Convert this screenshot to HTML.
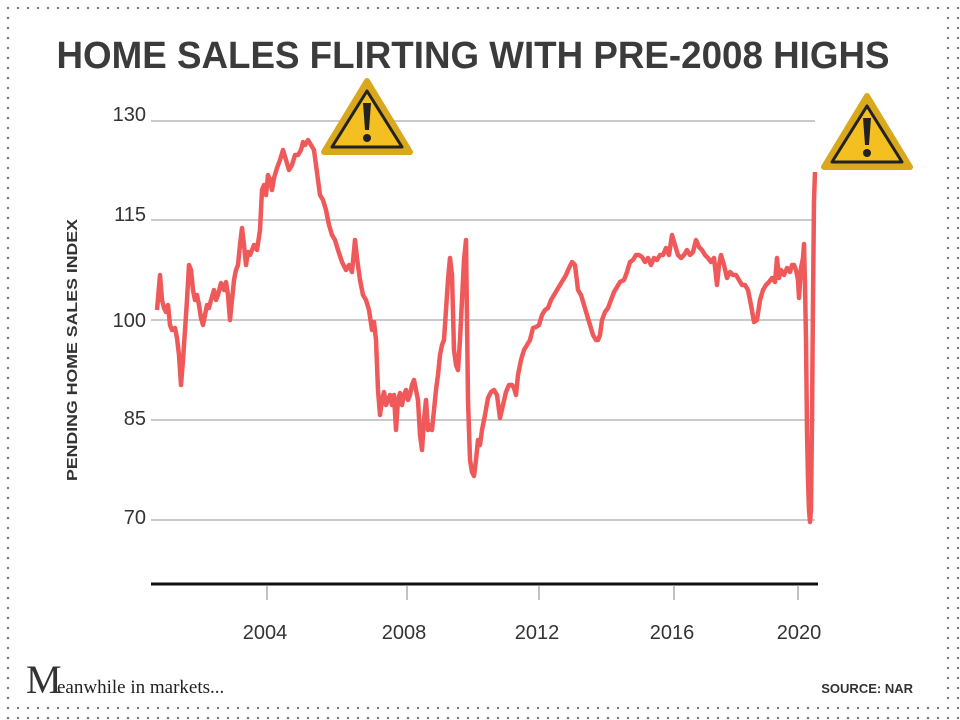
<!DOCTYPE html>
<html><head><meta charset="utf-8"><style>
html,body{margin:0;padding:0}
body{width:960px;height:720px;position:relative;overflow:hidden;background:#fff;
background-image:radial-gradient(circle,#777 1px,transparent 1.4px);background-size:10px 10px;background-position:3px 3px}
.inner{position:absolute;left:15px;top:13px;right:15px;bottom:17px;background:#fff}
svg{position:absolute;left:0;top:0}
</style></head><body>
<div class="inner"></div>
<svg width="960" height="720" viewBox="0 0 960 720" font-family="Liberation Sans, sans-serif">
<text x="473" y="68" text-anchor="middle" font-size="38" font-weight="bold" fill="#3b3b3b" textLength="833" lengthAdjust="spacingAndGlyphs">HOME SALES FLIRTING WITH PRE-2008 HIGHS</text>
<g stroke="#aaa" stroke-width="1.2">
<line x1="151" y1="121" x2="815" y2="121"/><line x1="151" y1="220" x2="815" y2="220"/>
<line x1="151" y1="320" x2="815" y2="320"/><line x1="151" y1="420" x2="815" y2="420"/>
<line x1="151" y1="520" x2="815" y2="520"/>
</g>
<g font-size="20" fill="#333" text-anchor="end">
<text x="146" y="121">130</text><text x="146" y="221">115</text><text x="146" y="327">100</text>
<text x="146" y="425">85</text><text x="146" y="524">70</text>
</g>
<text transform="translate(77,350) rotate(-90)" text-anchor="middle" font-size="15" font-weight="bold" fill="#333" textLength="262" lengthAdjust="spacingAndGlyphs">PENDING HOME SALES INDEX</text>
<line x1="151" y1="584" x2="818" y2="584" stroke="#111" stroke-width="3"/>
<g stroke="#999" stroke-width="1.2">
<line x1="267" y1="585" x2="267" y2="600"/><line x1="407" y1="585" x2="407" y2="600"/>
<line x1="539" y1="585" x2="539" y2="600"/><line x1="674" y1="585" x2="674" y2="600"/>
<line x1="798" y1="585" x2="798" y2="600"/>
</g>
<g font-size="20" fill="#333" text-anchor="middle">
<text x="265" y="639">2004</text><text x="404" y="639">2008</text><text x="537" y="639">2012</text>
<text x="672" y="639">2016</text><text x="799" y="639">2020</text>
</g>
<polyline fill="none" stroke="#f0595a" stroke-width="4.5" stroke-linejoin="round" points="157,310 160,275 162,300 164,308 166,312 168,305 170,325 172,330 175,328 177,338 179,355 181,385 183,360 185,330 187,300 189,265 191,270 193,290 195,300 197,295 199,305 201,318 203,325 205,315 207,305 209,308 211,300 214,290 216,300 218,295 221,283 224,290 226,282 228,295 230,320 232,300 234,280 236,270 238,265 240,245 242,228 244,245 246,265 248,252 250,255 252,250 254,245 257,250 260,230 262,190 264,185 266,195 268,175 270,180 272,190 274,178 277,168 280,160 283,150 286,160 289,170 292,165 295,155 298,155 301,150 303,142 305,145 308,140 311,145 314,150 316,165 318,180 320,195 323,200 326,210 329,225 332,235 335,240 338,250 342,262 346,270 349,265 352,272 355,240 357,258 360,280 363,295 366,300 369,310 372,330 374,322 376,340 378,390 380,415 382,400 384,392 386,405 388,400 390,395 392,405 394,395 396,430 398,400 400,393 402,405 404,395 406,390 408,400 410,395 412,385 414,380 416,390 418,400 420,435 422,450 424,420 426,400 428,430 430,425 432,430 434,410 436,390 438,375 440,355 442,345 444,340 446,310 448,280 450,258 452,275 454,350 456,365 458,370 460,340 462,300 464,260 466,240 468,400 470,460 472,472 474,476 476,460 478,440 480,445 482,430 485,415 488,398 491,392 494,390 497,395 500,418 503,405 506,392 509,385 512,385 514,388 516,395 518,375 521,360 524,350 527,345 530,340 533,328 536,327 539,325 542,315 545,310 548,308 551,300 554,295 557,290 560,285 563,280 566,275 569,268 572,262 575,265 578,290 581,295 584,305 587,315 590,325 593,335 596,340 598,340 600,335 602,320 605,312 608,308 611,300 614,292 617,287 620,282 624,280 627,272 630,262 633,260 636,255 639,255 642,257 645,262 648,258 651,265 654,258 657,260 660,255 663,255 666,248 669,255 672,235 675,245 678,255 681,258 684,255 687,250 690,255 693,252 696,240 699,247 702,250 705,255 708,258 711,262 714,258 717,285 719,265 721,255 724,265 727,278 730,272 733,275 736,275 739,280 742,285 745,285 748,290 751,305 754,322 757,320 760,300 763,290 766,285 769,282 772,278 775,282 777,258 779,278 781,270 784,275 787,268 790,272 792,265 794,265 796,270 798,280 799,298 801,268 803,258 804,244 805,285 806,340 807,430 808,480 809,510 810,522 811,510 812,420 813,300 814,200 815,172"/>
<g transform="translate(367,118)">
<polygon points="0,-37 43,34 -43,34" fill="#d9a81c" stroke="#d9a81c" stroke-width="6" stroke-linejoin="round"/>
<polygon points="0,-27 35,29 -35,29" fill="#f4c021" stroke="#222" stroke-width="3" stroke-linejoin="round"/>
<path d="M-4,-15 L4,-15 L2,12 L-2,12 Z" fill="#222"/><circle cx="0" cy="20" r="4" fill="#222"/>
</g>
<g transform="translate(867,133)">
<polygon points="0,-37 43,34 -43,34" fill="#d9a81c" stroke="#d9a81c" stroke-width="6" stroke-linejoin="round"/>
<polygon points="0,-27 35,29 -35,29" fill="#f4c021" stroke="#222" stroke-width="3" stroke-linejoin="round"/>
<path d="M-4,-15 L4,-15 L2,12 L-2,12 Z" fill="#222"/><circle cx="0" cy="20" r="4" fill="#222"/>
</g>
<text x="26" y="693" font-family="Liberation Serif, serif" font-size="40" fill="#333">M</text>
<text x="57" y="693" font-family="Liberation Serif, serif" font-size="19" fill="#222">eanwhile in markets...</text>
<text x="913" y="693" text-anchor="end" font-size="13" font-weight="bold" fill="#333">SOURCE:  NAR</text>
</svg>
</body></html>
